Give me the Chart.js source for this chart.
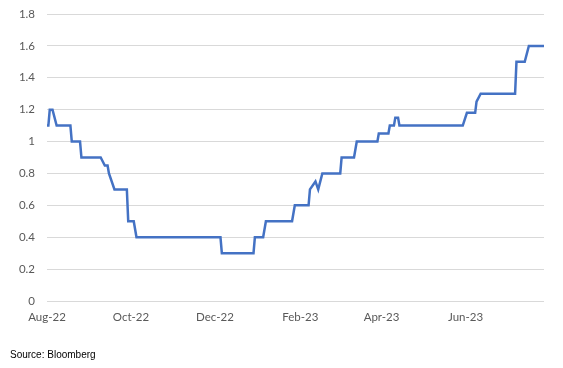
<!DOCTYPE html>
<html>
<head>
<meta charset="utf-8">
<script src="https://cdn.jsdelivr.net/npm/chart.js@4"></script>
<style>
  html, body { margin: 0; padding: 0; background: #fff; }
  #wrap { position: relative; width: 563px; height: 368px; }
  #source { position: absolute; left: 10px; top: 349px; font: 10px "Liberation Sans", Arial, sans-serif; color: #000; }
</style>
</head>
<body>
<div id="wrap">
  <canvas id="rateChart" width="563" height="368"></canvas>
  <div id="source">Source: Bloomberg</div>
</div>
<script>
// day offsets from 1 Aug 2022 where the line changes direction
const days = [0, 1, 2, 4, 7, 17, 18, 24, 25, 39, 42, 44, 45, 49, 58, 59, 63, 65,
    126, 127, 150, 151, 157, 159, 178, 180, 190, 191, 195, 197, 200, 213, 214,
    223, 225, 240, 241, 248, 249, 252, 253, 255, 256, 302, 305, 311, 312, 315,
    340, 341, 347, 350, 361];
const rates = [1.1, 1.1, 1.2, 1.2, 1.1, 1.1, 1.0, 1.0, 0.9, 0.9, 0.85, 0.85, 0.8, 0.7, 0.7, 0.5, 0.5, 0.4,
    0.4, 0.3, 0.3, 0.4, 0.4, 0.5, 0.5, 0.6, 0.6, 0.7, 0.75, 0.7, 0.8, 0.8, 0.9,
    0.9, 1.0, 1.0, 1.05, 1.05, 1.1, 1.1, 1.15, 1.15, 1.1, 1.1, 1.18, 1.18, 1.25, 1.3,
    1.3, 1.5, 1.5, 1.6, 1.6];

// x-axis labels (first day of every second month)
const tickDays = [0, 61, 122, 184, 243, 304];
const tickLabels = ['Aug-22', 'Oct-22', 'Dec-22', 'Feb-23', 'Apr-23', 'Jun-23'];

const points = days.map((d, i) => ({ x: d, y: rates[i] }));

const ctx = document.getElementById('rateChart').getContext('2d');
const rateChart = new Chart(ctx, {
    type: 'line',
    data: {
        datasets: [{
            data: points,
            borderColor: '#4472C4',
            borderWidth: 2.5,
            pointRadius: 0,
            tension: 0,
            fill: false
        }]
    },
    options: {
        responsive: false,
        animation: false,
        layout: { padding: { top: 14, right: 19, bottom: 0, left: 0 } },
        plugins: {
            legend: { display: false },
            tooltip: { enabled: false }
        },
        scales: {
            x: {
                type: 'linear',
                min: 0,
                max: 361,
                grid: { display: false, drawTicks: false },
                border: { display: false },
                afterBuildTicks: (scale) => {
                    scale.ticks = tickDays.map(v => ({ value: v }));
                },
                // fixed axis box so the plot area lines up with the reference
                afterFit: (scale) => { scale.height = 67; scale.paddingLeft = 0; scale.paddingRight = 0; },
                ticks: {
                    autoSkip: false,
                    maxRotation: 0,
                    padding: 9,
                    color: '#595959',
                    font: { family: 'Lato', size: 11.5 },
                    callback: (v) => tickLabels[tickDays.indexOf(v)]
                }
            },
            y: {
                min: 0,
                max: 1.8,
                grid: { color: '#d9d9d9', lineWidth: 1, drawTicks: false },
                border: { display: false },
                afterFit: (scale) => { scale.width = 47; scale.paddingTop = 0; scale.paddingBottom = 0; },
                ticks: {
                    stepSize: 0.2,
                    padding: 12,
                    color: '#595959',
                    font: { family: 'Lato', size: 11.5 },
                    callback: (v) => String(+v.toFixed(1))
                }
            }
        }
    }
});
</script>
</body>
</html>
